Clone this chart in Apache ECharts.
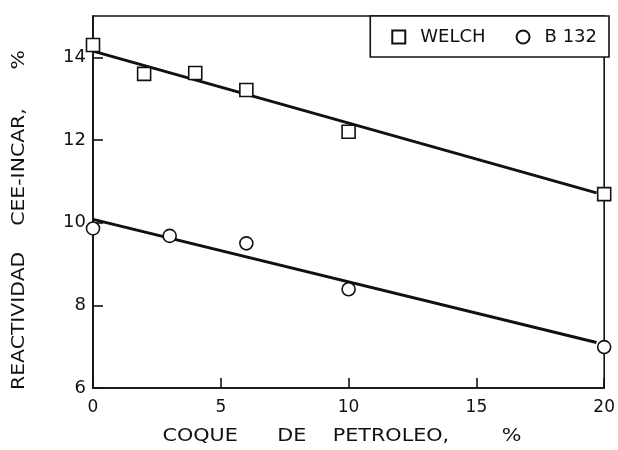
<!DOCTYPE html>
<html><head><meta charset="utf-8">
<script src="https://cdn.jsdelivr.net/npm/echarts@6/dist/echarts.min.js"></script>
<style>html,body{margin:0;padding:0;background:#fff}#c{width:618px;height:450px}</style>
</head><body><div id="c"></div>
<script>
// Data
const welchX = [0, 2, 4, 6, 10, 20];
const welchY = [14.3, 13.6, 13.62, 13.21, 12.2, 10.69];
const b132X = [0, 3, 6, 10, 20];
const b132Y = [9.86, 9.68, 9.5, 8.39, 6.99];
const welchFitX = [0, 19.7];
const welchFitY = [14.15, 10.72];
const b132FitX = [0, 19.7];
const b132FitY = [10.08, 7.1];
const seriesNames = ['WELCH', 'B 132'];
const xTitle = 'COQUE      DE    PETROLEO,        %';
const yTitle = 'REACTIVIDAD    CEE-INCAR,      %';

const zip = (a, b) => a.map((v, i) => [v, b[i]]);
const font = 'DejaVu Sans';
const titleFont = '17px "DejaVu Sans"';
const ctx = document.createElement('canvas').getContext('2d');
ctx.font = titleFont;
const xScale = 359 / ctx.measureText(xTitle).width;
const yScale = 340 / ctx.measureText(yTitle).width;

const chart = echarts.init(document.getElementById('c'), null, {renderer: 'canvas'});
chart.setOption({
  animation: false,
  backgroundColor: '#fff',
  grid: {left: 93, right: 13, top: 16, bottom: 62, show: true, borderColor: '#111', borderWidth: 1.6, backgroundColor: 'transparent'},
  legend: {
    data: seriesNames,
    right: 9, top: 16,
    orient: 'horizontal',
    itemGap: 30,
    itemWidth: 13, itemHeight: 13,
    padding: [12, 12, 11, 21],
    borderColor: '#111', borderWidth: 1.6,
    backgroundColor: '#fff',
    textStyle: {fontFamily: font, fontSize: 18, color: '#111', padding: [0, 0, 0, 10]}
  },
  graphic: [
    {type: 'text', x: 342, y: 437, scaleX: xScale,
     style: {text: xTitle, font: titleFont, fill: '#111', align: 'center', verticalAlign: 'middle'}},
    {type: 'text', x: 20, y: 220, rotation: Math.PI / 2, scaleX: yScale,
     style: {text: yTitle, font: titleFont, fill: '#111', align: 'center', verticalAlign: 'middle'}}
  ],
  xAxis: {
    type: 'value', min: 0, max: 20, interval: 5,
    axisLine: {show: true, lineStyle: {color: '#111', width: 1.6}},
    axisTick: {show: true, inside: true, length: 10, lineStyle: {color: '#111', width: 1.6}},
    axisLabel: {fontFamily: font, fontSize: 17, color: '#111', margin: 11},
    splitLine: {show: false}
  },
  yAxis: {
    type: 'value', min: 6, max: 15, interval: 2,
    axisLine: {show: true, lineStyle: {color: '#111', width: 1.6}},
    axisTick: {show: true, inside: true, length: 10, lineStyle: {color: '#111', width: 1.6}},
    axisLabel: {fontFamily: font, fontSize: 18, color: '#111', margin: 7, showMaxLabel: false,
      formatter: v => (v > 14 ? '' : String(v))},
    splitLine: {show: false}
  },
  series: [
    {name: 'fitW', type: 'line', data: zip(welchFitX, welchFitY), symbol: 'none',
     lineStyle: {color: '#111', width: 3}, z: 2, silent: true},
    {name: 'fitB', type: 'line', data: zip(b132FitX, b132FitY), symbol: 'none',
     lineStyle: {color: '#111', width: 3}, z: 2, silent: true},
    {name: seriesNames[0], type: 'scatter', data: zip(welchX, welchY), symbol: 'rect', symbolSize: 13,
     itemStyle: {color: '#fff', borderColor: '#111', borderWidth: 1.6, opacity: 1}, z: 5},
    {name: seriesNames[1], type: 'scatter', data: zip(b132X, b132Y), symbol: 'circle', symbolSize: 13,
     itemStyle: {color: '#fff', borderColor: '#111', borderWidth: 1.6, opacity: 1}, z: 5}
  ]
});
</script></body></html>
